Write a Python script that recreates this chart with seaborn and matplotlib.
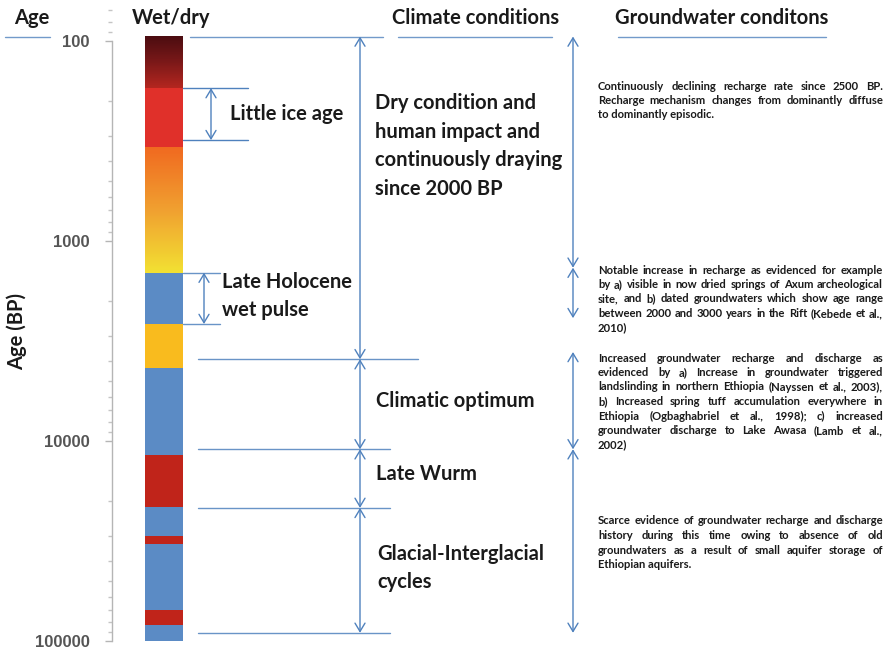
import numpy as np
import matplotlib
matplotlib.use("Agg")
import matplotlib.pyplot as plt
import seaborn as sns
from matplotlib.colors import LinearSegmentedColormap
from matplotlib.ticker import LogLocator, NullFormatter, FixedLocator

# ---------------- data ----------------
seg_bounds = [94, 172, 340, 1440, 2600, 4300, 11800, 21500, 30000, 32800, 70000, 83000, 100000]
seg_kind = ["dark_grad", "red", "warm_grad", "wet", "dry_orange", "wet",
            "dry", "wet", "dry", "wet", "dry", "wet"]

age_ticks = [100, 1000, 10000, 100000]
age_tick_labels = ["100", "1000", "10000", "100000"]

little_ice_age = [172, 313]
late_holocene = [1440, 2600]
climate_bounds = [95, 3900, 11000, 21600, 91000]
gw_arrows = [(95, 1360), (1360, 2430), (3590, 11000), (11000, 91000)]

climate_labels = ["Dry condition and\nhuman impact and\ncontinuously draying\nsince 2000 BP",
                  "Climatic optimum", "Late Wurm", "Glacial-Interglacial\ncycles"]

gw_paragraphs = [
    ["Continuously declining  recharge rate since 2500 BP.",
     "Recharge mechanism changes from dominantly diffuse",
     "to dominantly episodic."],
    ["Notable increase in recharge as evidenced for example",
     "by a) visible in now dried springs of Axum archeological",
     "site, and  b) dated groundwaters which show age range",
     "between 2000 and 3000 years in the Rift (Kebede et al.,",
     "2010)"],
    ["Increased groundwater recharge and discharge as",
     "evidenced by a) Increase in groundwater triggered",
     "landslinding in northern Ethiopia (Nayssen et al., 2003),",
     "b) Increased spring tuff accumulation everywhere in",
     "Ethiopia (Ogbaghabriel et al., 1998); c) increased",
     "groundwater discharge to Lake Awasa (Lamb et al.,",
     "2002)"],
    ["Scarce evidence of groundwater recharge and discharge",
     "history during this time owing to absence of old",
     "groundwaters as a result of small aquifer storage of",
     "Ethiopian aquifers."],
]

# ---------------- style ----------------
sns.set_theme(style="white")
plt.rcParams["font.family"] = ["Lato", "DejaVu Sans"]

W, H = 889, 650
fig = plt.figure(figsize=(W / 100, H / 100), dpi=100)
ax = fig.add_axes([0, 0, 1, 1])
ax.set_facecolor("white")
ax.set_xlim(0, W)
ax.set_yscale("log")
top_log = 2 - 41 / 200.0
bot_log = 2 + 609 / 200.0
ax.set_ylim(10 ** bot_log, 10 ** top_log)

LINE = "#4f81bd"
colors = {"red": "#e0302a", "wet": "#5b8bc5", "dry_orange": "#f9bb1e", "dry": "#c0241a"}
grads = {
    "dark_grad": LinearSegmentedColormap.from_list("dk", ["#4a0c10", "#7a1818", "#b3261f"]),
    "warm_grad": LinearSegmentedColormap.from_list("wm", ["#f06a20", "#f0a030", "#f2e032"]),
}

BX0, BX1 = 145, 183
for lo, hi, kind in zip(seg_bounds[:-1], seg_bounds[1:], seg_kind):
    if kind in grads:
        edges = np.logspace(np.log10(lo), np.log10(hi), 120)
        C = np.linspace(0, 1, 119).reshape(-1, 1)
        ax.pcolormesh([BX0, BX1], edges, C, cmap=grads[kind], shading="flat",
                      linewidth=0, antialiased=False, rasterized=True)
    else:
        ax.bar((BX0 + BX1) / 2, hi - lo, bottom=lo, width=BX1 - BX0,
               color=colors[kind], linewidth=0)

# ---------------- axis ----------------
for s in ["top", "right", "bottom"]:
    ax.spines[s].set_visible(False)
ax.spines["left"].set_position(("data", 112))
ax.spines["left"].set_bounds(100, 100000)
ax.spines["left"].set_color("#b5b5b5")
ax.spines["left"].set_linewidth(1)
ax.set_xticks([])
ax.yaxis.set_major_locator(FixedLocator(age_ticks))
ax.set_yticklabels(age_tick_labels)
ax.yaxis.set_minor_locator(LogLocator(base=10, subs=np.arange(2, 10)))
ax.yaxis.set_minor_formatter(NullFormatter())
ax.tick_params(axis="y", which="major", direction="out", length=5, width=1,
               color="#b5b5b5", labelcolor="#555555", labelsize=12, pad=11, left=True)
ax.tick_params(axis="y", which="minor", direction="out", length=3, width=1,
               color="#c5c5c5", left=True)
for lbl in ax.get_yticklabels():
    lbl.set_fontweight("bold")
    lbl.set_family(["Liberation Sans", "DejaVu Sans"])


def fx(x):
    return x / W


def fy(y):
    return 1 - y / H


fig.text(fx(17), fy(331), "Age (BP)", rotation=90, ha="center", va="center",
         fontsize=14.5, fontweight="bold", color="#1a1a1a")

# headers
hdr_kw = dict(fontsize=14.5, fontweight="bold", color="#1a1a1a", va="center")
fig.text(fx(14), fy(18), "Age", ha="left", **hdr_kw)
fig.text(fx(171), fy(18), "Wet/dry", ha="center", **hdr_kw)
fig.text(fx(476), fy(18), "Climate conditions", ha="center", **hdr_kw)
fig.text(fx(722), fy(18), "Groundwater conditons", ha="center", **hdr_kw)

# header underlines
for x0, x1 in [(5, 50), (190, 383), (398, 552), (618, 826)]:
    ax.plot([x0, x1], [95, 95], color=LINE, lw=1, alpha=0.8)


def darrow(x, a0, a1):
    ax.annotate("", xy=(x, a1), xytext=(x, a0),
                arrowprops=dict(arrowstyle="<->, head_length=0.5, head_width=0.3",
                                color=LINE, lw=1, shrinkA=0, shrinkB=0,
                                mutation_scale=12))


# little ice age
for a in little_ice_age:
    ax.plot([BX1, 248], [a, a], color=LINE, lw=1)
darrow(211, little_ice_age[0], little_ice_age[1])
# late holocene
for a in late_holocene:
    ax.plot([BX1, 220], [a, a], color=LINE, lw=1, alpha=0.85)
darrow(204, late_holocene[0], late_holocene[1])

# climate boundaries
line_ends = [None, 418, 390, 390, 390]
for a, xe in zip(climate_bounds, line_ends):
    if xe is not None:
        ax.plot([198, xe], [a, a], color=LINE, lw=1, alpha=0.85)
for a0, a1 in zip(climate_bounds[:-1], climate_bounds[1:]):
    darrow(360, a0, a1)

for a0, a1 in gw_arrows:
    darrow(573, a0, a1)

# labels
lab_kw = dict(fontsize=14.5, fontweight="bold", color="#1a1a1a", va="center", ha="left")
fig.text(fx(230), fy(114), "Little ice age", **lab_kw)
fig.text(fx(222), fy(296), "Late Holocene\nwet pulse", linespacing=1.45, **lab_kw)
fig.text(fx(375), fy(146), climate_labels[0], linespacing=1.55, **lab_kw)
fig.text(fx(376), fy(401), climate_labels[1], **lab_kw)
fig.text(fx(376), fy(474), climate_labels[2], **lab_kw)
fig.text(fx(377), fy(568), climate_labels[3], linespacing=1.55, **lab_kw)

# groundwater paragraphs (justified)
renderer = fig.canvas.get_renderer()
small_kw = dict(fontsize=8.1, fontweight="bold", color="#1a1a1a", va="center", ha="left")
X0, X1 = 598, 883
starts = [86, 270, 358, 521]
DY = 14.5
for para, y0 in zip(gw_paragraphs, starts):
    for i, line in enumerate(para):
        y = y0 + i * DY
        last = i == len(para) - 1
        words = line.split()
        if last or len(words) < 2:
            fig.text(fx(X0), fy(y), line, **small_kw)
            continue
        widths = []
        for w in words:
            t = fig.text(0, 0, w, **small_kw)
            widths.append(t.get_window_extent(renderer).width)
            t.remove()
        gap = (X1 - X0 - sum(widths)) / (len(words) - 1)
        x = X0
        for w, wd in zip(words, widths):
            fig.text(fx(x), fy(y), w, **small_kw)
            x += wd + gap

fig.savefig("out.png", dpi=100)
